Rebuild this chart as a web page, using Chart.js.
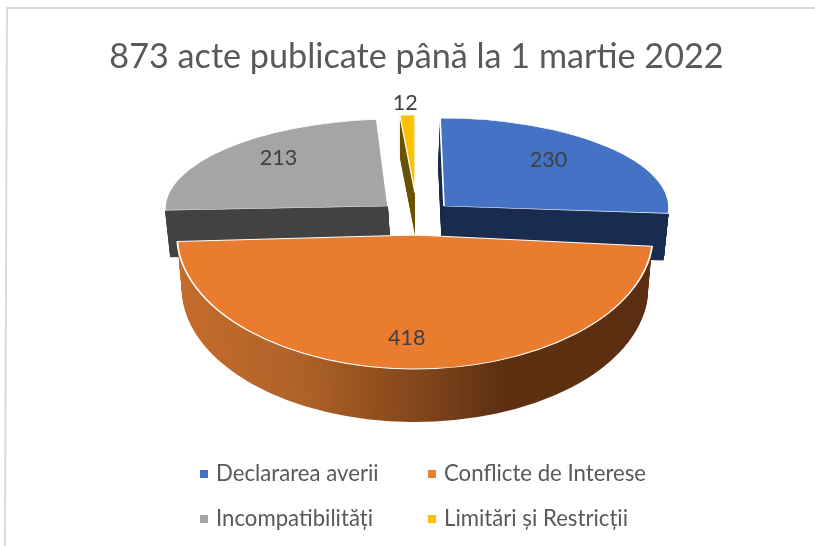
<!DOCTYPE html>
<html><head><meta charset="utf-8">
<style>html,body{margin:0;padding:0;background:#fff}canvas{display:block}</style>
<script src="https://cdn.jsdelivr.net/npm/chart.js@4"></script>
</head><body>
<div style="width:815px;height:546px"><canvas id="c" width="815" height="546"></canvas></div>
<script>
const categories = ['Declararea averii','Conflicte de Interese','Incompatibilități','Limitări și Restricții'];
const values = [230,418,213,12];
const colors = ['#4472C4','#EA7C30','#A5A5A5','#FFC000'];
const sideColors = ['#1A2D50',null,'#434343','#6B5200'];
const titleText = '873 acte publicate până la 1 martie 2022';

// projection of each slice on the page: centre, semi-axes, depth, inset of the lower face, shear
const proj = [
 {x:444,y:206,a:225,b:88,d:47,dx:-2,shrink:.987,skew:.045,lab:[.6,5,-10]},
 {x:415,y:235,a:238,b:134,d:53,dx:0,shrink:.98,skew:0,lab:[.77,-5,0]},
 {x:388,y:206,a:223,b:87,d:47,dx:3,shrink:.99,skew:-.092,lab:[.7,8,-8]},
 {x:415,y:193,a:176,b:78,d:42,dx:0,shrink:1,skew:0,lab:[1.16,-1,0]}
];
const drawOrder = [0,2,3,1];

const pie3d = {
 id:'pie3d',
 beforeDraw(ch){
  const c=ch.ctx;c.save();c.strokeStyle='#D9D9D9';c.lineWidth=2;
  c.beginPath();c.moveTo(815,8);c.lineTo(7,8);c.lineTo(5,546);c.stroke();c.restore();
 },
 beforeDatasetDraw(ch,args){
  const c=ch.ctx,meta=args.meta;
  const place=(arc,p,t)=>{
   const R=arc.outerRadius,s=1-(1-p.shrink)*t;
   c.translate(p.x+p.dx*t,p.y+p.d*t);c.transform(1,0,p.skew,1,0,0);c.scale(p.a/R*s,p.b/R);c.translate(-arc.x,-arc.y);
  };
  drawOrder.forEach(i=>{
   const arc=meta.data[i],p=proj[i],opts=arc.options,R=arc.outerRadius;
   let fill=sideColors[i];
   if(!fill){
    fill=c.createLinearGradient(arc.x-R,0,arc.x+R,0);
    fill.addColorStop(0,'#C56C2C');fill.addColorStop(.26,'#AE6228');fill.addColorStop(.4,'#95511F');
    fill.addColorStop(.55,'#7A421A');fill.addColorStop(.68,'#5E3012');fill.addColorStop(1,'#5C2E11');
   }
   arc.options=Object.assign({},opts,{backgroundColor:fill,borderWidth:0});
   for(let k=p.d;k>=1;k--){c.save();place(arc,p,k/p.d);arc.draw(c);c.restore();}
   arc.options=opts;
   c.save();place(arc,p,0);arc.draw(c);c.restore();
  });
  return false;
 },
 afterDraw(ch){
  const c=ch.ctx,meta=ch.getDatasetMeta(0);
  c.save();c.textAlign='center';c.textBaseline='middle';c.fillStyle='#404040';c.font='21.5px Lato';
  meta.data.forEach((arc,i)=>{
   const p=proj[i],mid=(arc.startAngle+arc.endAngle)/2,[f,nx,ny]=p.lab;
   c.fillText(String(values[i]),p.x+f*p.a*Math.cos(mid)+nx,p.y+f*p.b*Math.sin(mid)+ny);
  });
  c.textAlign='left';c.font='22.2px Lato';
  const cols=[200,428],rows=[474,519];
  categories.forEach((t,i)=>{
   const x=cols[i%2],y=rows[i>>1];
   c.fillStyle=colors[i];c.fillRect(x,y-4,8,8);
   c.fillStyle='#595959';c.fillText(t,x+16,y);
  });
  c.restore();
 }
};

new Chart(document.getElementById('c'),{
 type:'pie',
 data:{labels:categories,datasets:[{data:values,backgroundColor:colors,borderColor:'#FFFFFF',borderWidth:1.5}]},
 options:{responsive:false,animation:false,radius:200,
  layout:{padding:{left:18,top:0,right:0,bottom:0}},
  plugins:{legend:{display:false},tooltip:{enabled:false},
   title:{display:true,text:titleText,fullSize:false,color:'#595959',font:{family:'Lato',size:34.2,weight:'normal'},padding:{top:36,bottom:10}}}},
 plugins:[pie3d]
});
</script>
</body></html>
